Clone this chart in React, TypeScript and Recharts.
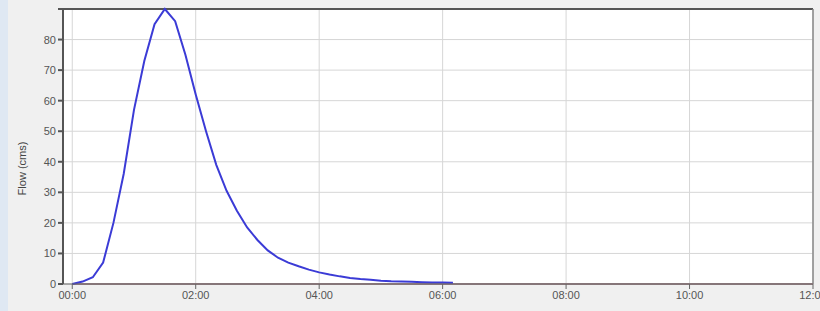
import React from 'react';
import { LineChart, Line, XAxis, YAxis, CartesianGrid, ReferenceLine } from 'recharts';

// hydrograph, 10 minute steps (hours)
const hours = [
  0, 0.167, 0.333, 0.5, 0.667, 0.833, 1.0, 1.167, 1.333, 1.5, 1.667, 1.833, 2.0,
  2.167, 2.333, 2.5, 2.667, 2.833, 3.0, 3.167, 3.333, 3.5, 3.667, 3.833, 4.0,
  4.167, 4.333, 4.5, 4.667, 4.833, 5.0, 5.167, 5.333, 5.5, 5.667, 5.833, 6.0, 6.167,
];
const flow = [
  0, 0.8, 2.2, 7, 20, 36, 57, 73, 85, 90, 86, 75, 62,
  50, 39, 30.5, 24, 18.5, 14.4, 11, 8.6, 7, 5.8, 4.7, 3.8,
  3.1, 2.5, 2, 1.6, 1.4, 1.1, 0.9, 0.8, 0.7, 0.6, 0.5, 0.5, 0.4,
];

const baseHours = [0, 12];
const baseFlow = [0, 0];

const xTicks = [0, 2, 4, 6, 8, 10, 12];
const yTicks = [0, 10, 20, 30, 40, 50, 60, 70, 80, 90];

const flowData = hours.map((t, i) => ({ t, flow: flow[i] }));
const baseData = baseHours.map((t, i) => ({ t, base: baseFlow[i] }));

const fmtHour = (h: number) => String(h).padStart(2, '0') + ':00';

const YTick = (props: any) => {
  const { x, y, payload } = props;
  if (payload.value === 90) return null;
  return (
    <text x={x} y={y} dy={4} textAnchor="end" fontSize={11} fill="#555">
      {payload.value}
    </text>
  );
};

export default function App() {
  return (
    <div
      style={{
        position: 'fixed',
        left: 0,
        top: 0,
        width: 820,
        height: 311,
        background: '#f0f0f0',
        fontFamily: '"Liberation Sans", Arial, sans-serif',
      }}
    >
      <div style={{ position: 'absolute', left: 0, top: 0, width: 8, height: 311, background: '#dfe8f3' }} />
      <LineChart
        width={820}
        height={311}
        margin={{ top: 9, right: 7, bottom: 0, left: 0 }}
        style={{ position: 'absolute', left: 0, top: 0 }}
      >
        <CartesianGrid stroke="#d6d6d6" fill="#ffffff" />
        <XAxis
          dataKey="t"
          type="number"
          domain={[-0.15, 12]}
          ticks={xTicks}
          interval={0}
          tickFormatter={fmtHour}
          height={27}
          stroke="#666"
          tickSize={5}
          tick={{ fontSize: 11, fill: '#555' }}
          allowDataOverflow
        />
        <YAxis
          type="number"
          domain={[0, 90]}
          ticks={yTicks}
          interval={0}
          width={63}
          stroke="#555"
          strokeWidth={2}
          tickSize={5}
          tick={<YTick />}
          label={{
            value: 'Flow (cms)',
            angle: -90,
            position: 'insideLeft',
            dx: 17,
            dy: 22,
            style: { fontSize: 11, fill: '#444', textAnchor: 'middle' },
          }}
        />
        <ReferenceLine y={90} stroke="#555" strokeWidth={2} />
        <ReferenceLine x={12} stroke="#888" strokeWidth={1.5} />
        <Line
          data={baseData}
          dataKey="base"
          type="linear"
          stroke="#a6868c"
          strokeWidth={2}
          dot={false}
          isAnimationActive={false}
        />
        <Line
          data={flowData}
          dataKey="flow"
          type="linear"
          stroke="#3b3bd6"
          strokeWidth={2}
          dot={false}
          isAnimationActive={false}
        />
      </LineChart>
    </div>
  );
}
